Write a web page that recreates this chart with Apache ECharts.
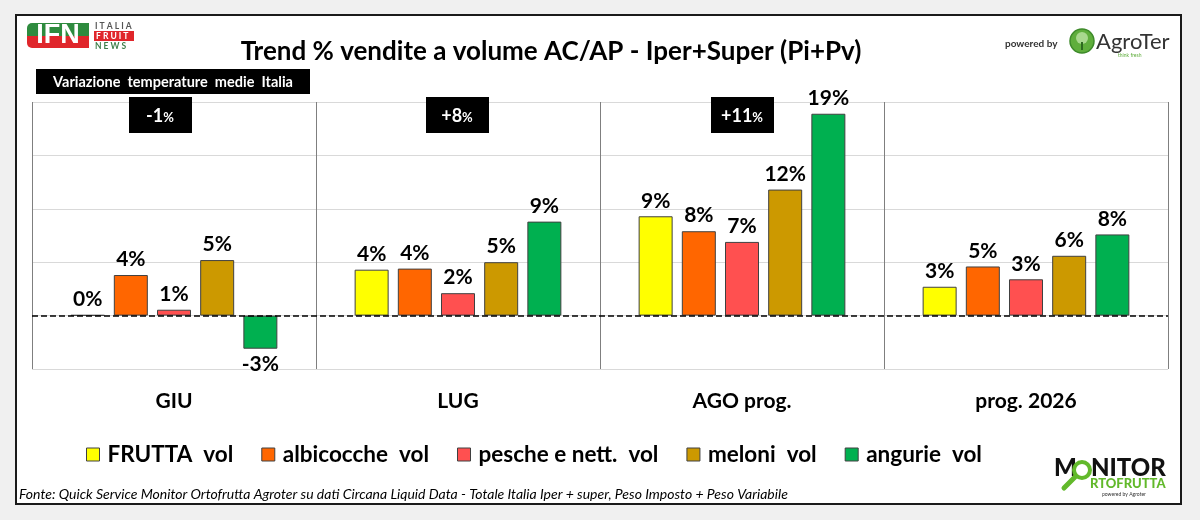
<!DOCTYPE html>
<html>
<head>
<meta charset="utf-8">
<script src="https://cdn.jsdelivr.net/npm/echarts@6/dist/echarts.min.js"></script>
<style>
  html, body { margin: 0; padding: 0; background: #f0f0f0; }
  #main { width: 1200px; height: 520px; }
</style>
</head>
<body>
<div id="main"></div>
<script type="text/javascript">
// dati
var categories = ['GIU', 'LUG', 'AGO prog.', 'prog. 2026'];
var frutta     = [0.05, 4.3, 9.3, 2.7];
var albicocche = [3.8, 4.4, 7.9, 4.6];
var pesche     = [0.55, 2.1, 6.9, 3.4];
var meloni     = [5.2, 5.0, 11.8, 5.6];
var angurie    = [-3.1, 8.8, 18.9, 7.6];
var seriesNames = ['FRUTTA  vol', 'albicocche  vol', 'pesche e nett.  vol', 'meloni  vol', 'angurie  vol'];
var tempVar = ['-1', '+8', '+11'];

var colors = ['#FFFF00', '#FF6600', '#FF5050', '#CC9900', '#00B050'];
var FONT = 'Lato, "Open Sans", sans-serif';

var myChart = echarts.init(document.getElementById('main'));

function barData(arr) {
    return arr.map(function (v) {
        return v < 0 ? { value: v, label: { position: 'bottom' } } : v;
    });
}

function makeSeries(name, arr, idx) {
    var s = {
        name: name,
        type: 'bar',
        data: barData(arr),
        barWidth: 34,
        barGap: '27%',
        itemStyle: { color: colors[idx], borderColor: '#404040', borderWidth: 1 },
        label: {
            show: true,
            position: 'top',
            distance: 5,
            color: '#000',
            fontSize: 21,
            fontWeight: 'bold',
            fontFamily: FONT,
            formatter: function (p) { return Math.round(p.value) + '%'; }
        },
        emphasis: { disabled: true }
    };
    if (idx === 0) {
        // linea dello zero tratteggiata
        s.markLine = {
            silent: true,
            symbol: 'none',
            label: { show: false },
            lineStyle: { color: '#000', type: 'dashed', width: 1.5 },
            data: [{ yAxis: 0 }]
        };
    }
    return s;
}

// riquadri variazione temperature
var tempX = [160, 457, 742];
var tempGraphics = [];
tempVar.forEach(function (t, i) {
    tempGraphics.push({
        type: 'rect', shape: { x: tempX[i] - 31, y: 97, width: 63, height: 36 },
        style: { fill: '#000' }, z: 10
    });
    tempGraphics.push({
        type: 'text', x: tempX[i], y: 116, z: 11,
        style: {
            text: '{n|' + t + '}{p|%}', align: 'center', verticalAlign: 'middle',
            rich: {
                n: { fill: '#fff', fontSize: 18, fontWeight: 'bold', fontFamily: FONT },
                p: { fill: '#fff', fontSize: 13, fontWeight: 'bold', fontFamily: FONT, padding: [3, 0, 0, 0] }
            }
        }
    });
});

var option = {
    backgroundColor: '#f0f0f0',
    animation: false,
    grid: { left: 32, right: 32, top: 102, bottom: 151 },
    legend: {
        left: 81,
        top: 438,
        itemWidth: 13,
        itemHeight: 13,
        itemGap: 28,
        icon: 'rect',
        itemStyle: { borderColor: '#404040', borderWidth: 1 },
        textStyle: { color: '#000', fontSize: 22.5, fontWeight: 'bold', fontFamily: FONT, padding: [0, 0, 0, 3] },
        selectedMode: false,
        data: seriesNames
    },
    xAxis: {
        type: 'category',
        data: categories,
        axisLine: { show: false },
        axisTick: { show: false },
        axisLabel: { margin: 22, color: '#000', fontSize: 21, fontWeight: 'bold', fontFamily: FONT },
        splitLine: { show: true, lineStyle: { color: '#7f7f7f', width: 1 } }
    },
    yAxis: {
        type: 'value',
        min: -5,
        max: 20,
        interval: 5,
        axisLine: { show: false },
        axisTick: { show: false },
        axisLabel: { show: false },
        splitLine: { lineStyle: { color: '#d9d9d9', width: 1 } }
    },
    series: [
        makeSeries(seriesNames[0], frutta, 0),
        makeSeries(seriesNames[1], albicocche, 1),
        makeSeries(seriesNames[2], pesche, 2),
        makeSeries(seriesNames[3], meloni, 3),
        makeSeries(seriesNames[4], angurie, 4)
    ],
    graphic: [
        // cornice
        { type: 'rect', shape: { x: 16, y: 15, width: 1165, height: 489 },
          style: { fill: '#fff', stroke: '#1a1a1a', lineWidth: 2 }, z: -10, silent: true },
        // titolo
        { type: 'text', x: 551, y: 52, z: 10,
          style: { text: 'Trend % vendite a volume AC/AP - Iper+Super (Pi+Pv)', align: 'center', verticalAlign: 'middle',
                   fill: '#000', fontSize: 26, fontWeight: 'bold', fontFamily: FONT } },
        // etichetta temperature
        { type: 'rect', shape: { x: 36, y: 69, width: 274, height: 25 }, style: { fill: '#000' }, z: 10 },
        { type: 'text', x: 173, y: 82, z: 11,
          style: { text: 'Variazione  temperature  medie  Italia', align: 'center', verticalAlign: 'middle',
                   fill: '#fff', fontSize: 14.5, fontWeight: 'bold', fontFamily: FONT } },
        // logo IFN
        { type: 'rect', shape: { x: 27, y: 23, width: 62, height: 13, r: [5, 0, 0, 0] }, style: { fill: '#2e8b3e' }, z: 10 },
        { type: 'rect', shape: { x: 27, y: 36, width: 62, height: 12, r: [0, 0, 0, 5] }, style: { fill: '#e0262b' }, z: 10 },
        { type: 'text', x: 58, y: 36, z: 11,
          style: { text: 'IFN', align: 'center', verticalAlign: 'middle', fill: '#fff',
                   fontSize: 27, fontWeight: 'bold', fontFamily: '"Liberation Sans", sans-serif' } },
        { type: 'text', x: 95, y: 26, z: 11,
          style: { text: 'I T A L I A', verticalAlign: 'middle', fill: '#555', fontSize: 8.5, fontWeight: 'bold', fontFamily: FONT } },
        { type: 'rect', shape: { x: 94, y: 31, width: 40, height: 10 }, style: { fill: '#e0262b' }, z: 10 },
        { type: 'text', x: 96, y: 36, z: 11,
          style: { text: 'F R U I T', verticalAlign: 'middle', fill: '#fff', fontSize: 8.5, fontWeight: 'bold', fontFamily: FONT } },
        { type: 'text', x: 95, y: 46, z: 11,
          style: { text: 'N E W S', verticalAlign: 'middle', fill: '#3f7f4a', fontSize: 8.5, fontWeight: 'bold', fontFamily: FONT } },
        // logo AgroTer
        { type: 'text', x: 1005, y: 44, z: 11,
          style: { text: 'powered by', verticalAlign: 'middle', fill: '#333', fontSize: 10, fontWeight: 'bold', fontFamily: FONT } },
        { type: 'circle', shape: { cx: 1082, cy: 41, r: 12 }, style: { fill: '#5fae3c', stroke: '#3d8a2a', lineWidth: 1.5 }, z: 10 },
        { type: 'circle', shape: { cx: 1082, cy: 38, r: 6 }, style: { fill: '#a9d88e' }, z: 11 },
        { type: 'rect', shape: { x: 1081, y: 42, width: 2, height: 8 }, style: { fill: '#2d6a1f' }, z: 11 },
        { type: 'text', x: 1096, y: 42, z: 11,
          style: { text: 'AgroTer', verticalAlign: 'middle', fill: '#333', fontSize: 22, fontFamily: FONT } },
        { type: 'text', x: 1118, y: 55, z: 11,
          style: { text: 'think fresh', verticalAlign: 'middle', fill: '#5fae3c', fontSize: 5, fontFamily: FONT } },
        // logo Monitor Ortofrutta
        { type: 'text', x: 1054, y: 468, z: 11,
          style: { text: 'M', verticalAlign: 'middle', fill: '#111', fontSize: 24, fontWeight: 900, fontFamily: FONT } },
        { type: 'circle', shape: { cx: 1082, cy: 470, r: 8 }, style: { fill: 'none', stroke: '#62b92b', lineWidth: 4 }, z: 11 },
        { type: 'line', shape: { x1: 1075, y1: 477, x2: 1064, y2: 488 }, style: { stroke: '#62b92b', lineWidth: 5, lineCap: 'round' }, z: 11 },
        { type: 'text', x: 1091, y: 468, z: 11,
          style: { text: 'NITOR', verticalAlign: 'middle', fill: '#111', fontSize: 24, fontWeight: 900, fontFamily: FONT } },
        { type: 'text', x: 1090, y: 484, z: 11,
          style: { text: 'RTOFRUTTA', verticalAlign: 'middle', fill: '#62b92b', fontSize: 13, fontWeight: 900, fontFamily: FONT } },
        { type: 'text', x: 1102, y: 494, z: 11,
          style: { text: 'powered by Agroter', verticalAlign: 'middle', fill: '#333', fontSize: 5, fontFamily: FONT } },
        // fonte
        { type: 'text', x: 19, y: 494, z: 11,
          style: { text: 'Fonte: Quick Service Monitor Ortofrutta Agroter su dati Circana Liquid Data - Totale Italia Iper + super, Peso Imposto + Peso Variabile',
                   verticalAlign: 'middle', fill: '#000', fontSize: 14, fontStyle: 'italic', fontFamily: FONT } }
    ].concat(tempGraphics)
};

myChart.setOption(option);
</script>
</body>
</html>
